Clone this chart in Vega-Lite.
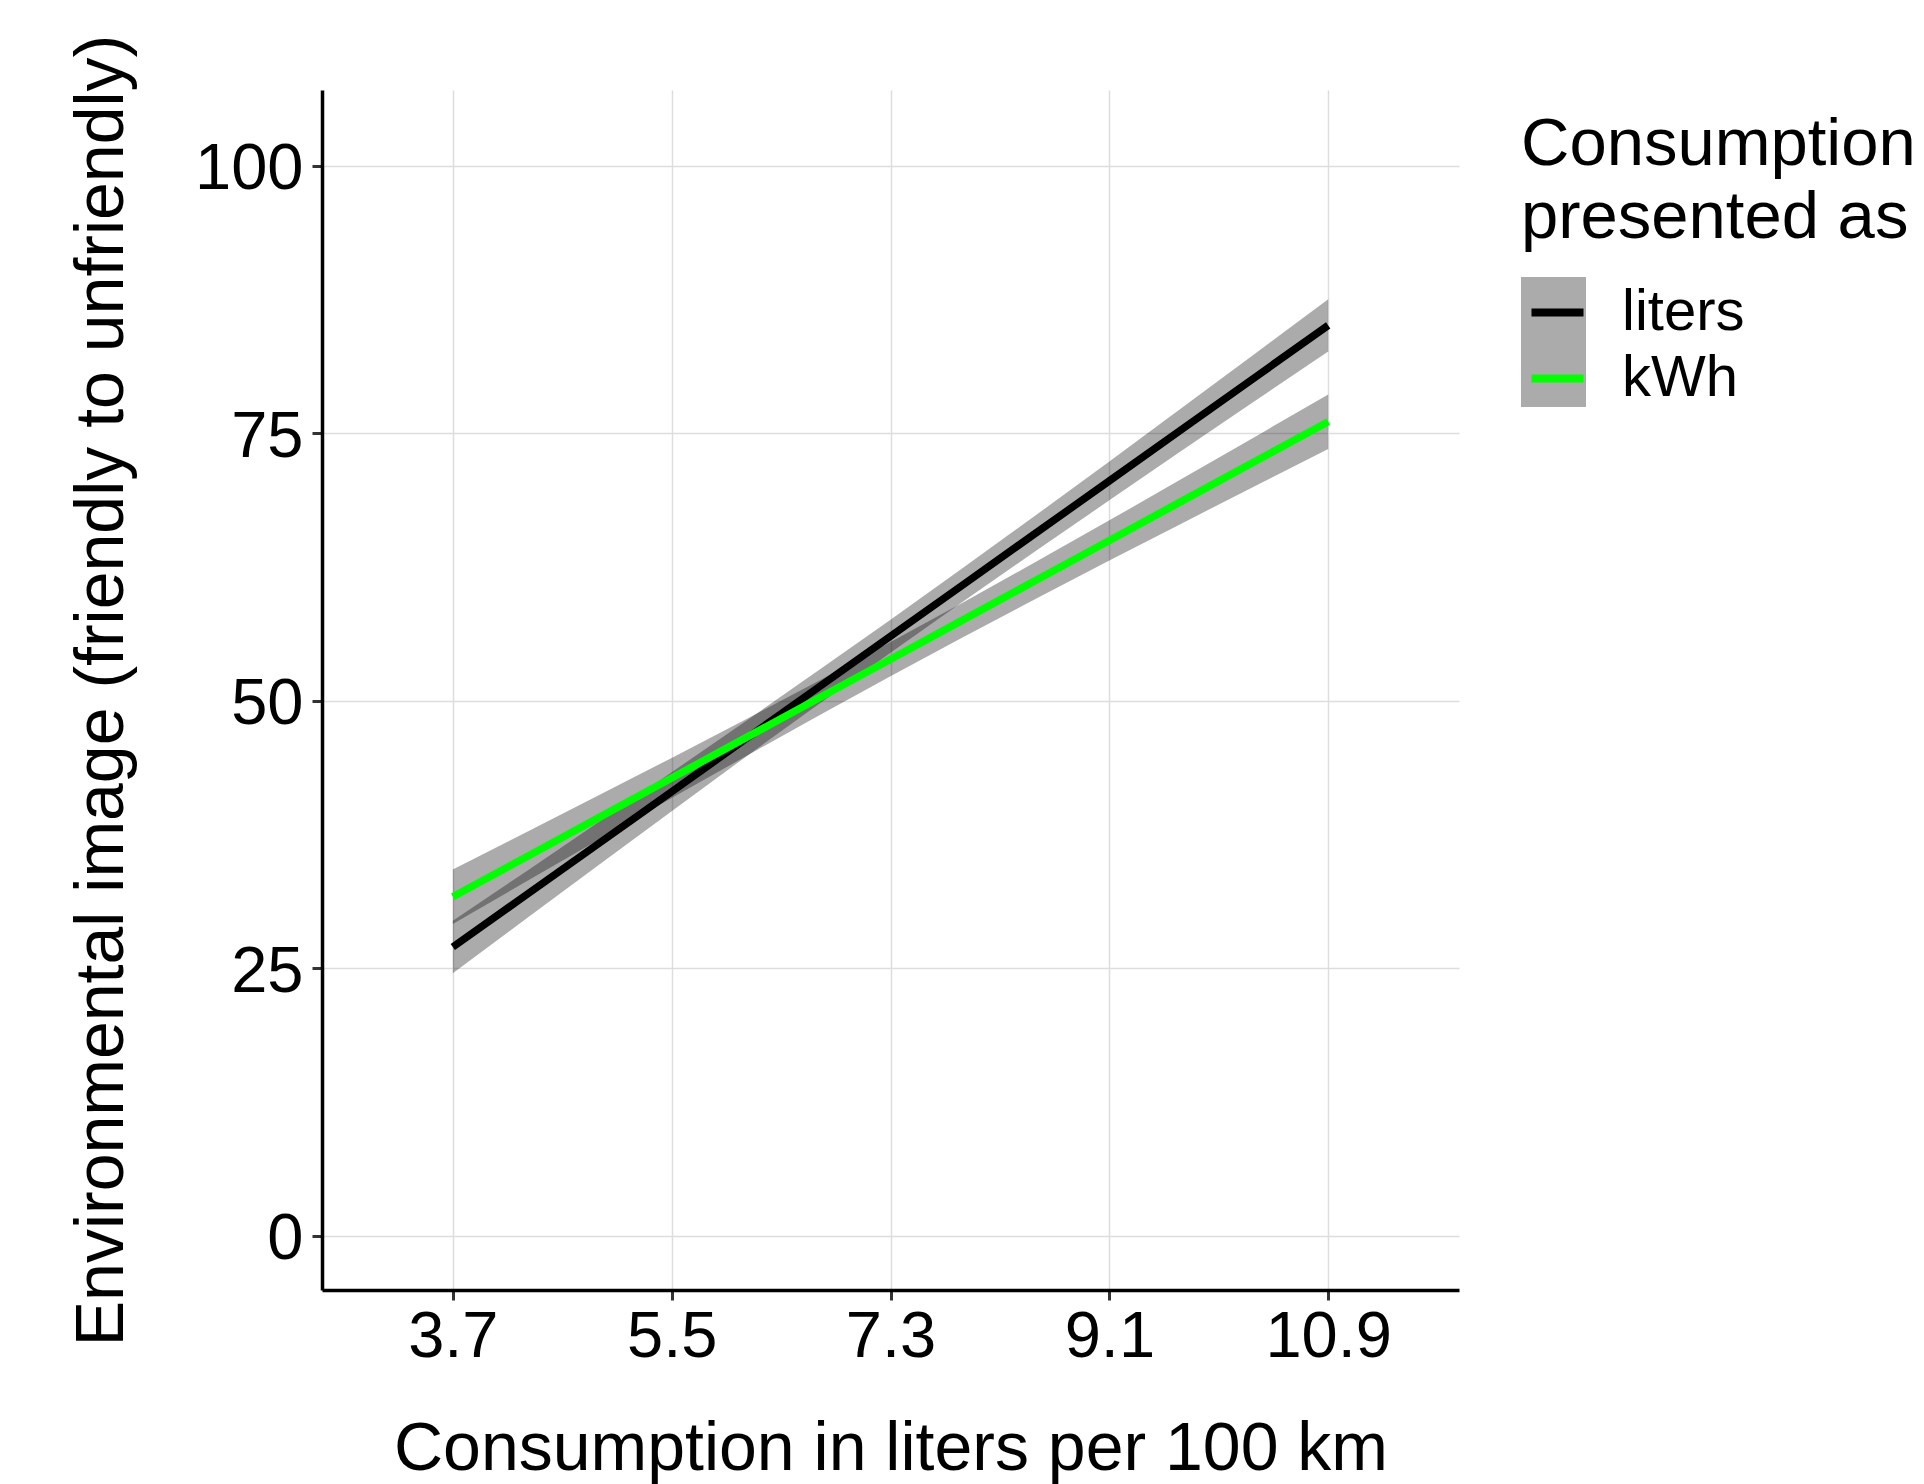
{
  "$schema": "https://vega.github.io/schema/vega-lite/v6.json",
  "autosize": {"type": "none"},
  "width": 1137,
  "height": 1200,
  "padding": {"left": 322, "top": 90, "right": 465, "bottom": 194},
  "background": "white",
  "config": {
    "font": "Liberation Sans",
    "view": {"stroke": null},
    "axis": {
      "labelFont": "Liberation Sans",
      "titleFont": "Liberation Sans",
      "labelColor": "black",
      "titleColor": "black",
      "titleFontWeight": "normal",
      "labelFontSize": 65,
      "titleFontSize": 68,
      "domainColor": "black",
      "domainWidth": 3.5,
      "tickColor": "#333333",
      "tickWidth": 3,
      "tickSize": 10,
      "gridColor": "#dddddd",
      "gridWidth": 1.5
    },
    "legend": {
      "titleFont": "Liberation Sans",
      "labelFont": "Liberation Sans",
      "titleFontWeight": "normal",
      "titleColor": "black",
      "labelColor": "black",
      "titleLimit": 2000,
      "labelLimit": 2000
    }
  },
  "data": {
    "values": [
      {"presented": "liters", "x": 3.7, "fit": 27.00, "lower": 24.55, "upper": 29.45},
      {"presented": "liters", "x": 4.3, "fit": 31.84, "lower": 29.63, "upper": 34.05},
      {"presented": "liters", "x": 4.9, "fit": 36.68, "lower": 34.68, "upper": 38.68},
      {"presented": "liters", "x": 5.5, "fit": 41.52, "lower": 39.70, "upper": 43.34},
      {"presented": "liters", "x": 6.1, "fit": 46.37, "lower": 44.70, "upper": 48.04},
      {"presented": "liters", "x": 6.7, "fit": 51.21, "lower": 49.63, "upper": 52.79},
      {"presented": "liters", "x": 7.3, "fit": 56.05, "lower": 54.50, "upper": 57.60},
      {"presented": "liters", "x": 7.9, "fit": 60.89, "lower": 59.31, "upper": 62.47},
      {"presented": "liters", "x": 8.5, "fit": 65.73, "lower": 64.06, "upper": 67.40},
      {"presented": "liters", "x": 9.1, "fit": 70.57, "lower": 68.75, "upper": 72.39},
      {"presented": "liters", "x": 9.7, "fit": 75.42, "lower": 73.42, "upper": 77.42},
      {"presented": "liters", "x": 10.3, "fit": 80.26, "lower": 78.05, "upper": 82.47},
      {"presented": "liters", "x": 10.9, "fit": 85.10, "lower": 82.65, "upper": 87.55},
      {"presented": "kWh", "x": 3.7, "fit": 31.70, "lower": 29.15, "upper": 34.25},
      {"presented": "kWh", "x": 4.3, "fit": 35.40, "lower": 33.10, "upper": 37.70},
      {"presented": "kWh", "x": 4.9, "fit": 39.10, "lower": 37.02, "upper": 41.18},
      {"presented": "kWh", "x": 5.5, "fit": 42.80, "lower": 40.92, "upper": 44.68},
      {"presented": "kWh", "x": 6.1, "fit": 46.50, "lower": 44.77, "upper": 48.23},
      {"presented": "kWh", "x": 6.7, "fit": 50.20, "lower": 48.57, "upper": 51.83},
      {"presented": "kWh", "x": 7.3, "fit": 53.90, "lower": 52.30, "upper": 55.50},
      {"presented": "kWh", "x": 7.9, "fit": 57.60, "lower": 55.97, "upper": 59.23},
      {"presented": "kWh", "x": 8.5, "fit": 61.30, "lower": 59.57, "upper": 63.03},
      {"presented": "kWh", "x": 9.1, "fit": 65.00, "lower": 63.12, "upper": 66.88},
      {"presented": "kWh", "x": 9.7, "fit": 68.70, "lower": 66.62, "upper": 70.78},
      {"presented": "kWh", "x": 10.3, "fit": 72.40, "lower": 70.10, "upper": 74.70},
      {"presented": "kWh", "x": 10.9, "fit": 76.10, "lower": 73.55, "upper": 78.65}
    ]
  },
  "encoding": {
    "x": {
      "field": "x",
      "type": "quantitative",
      "scale": {"domain": [2.624, 11.976], "nice": false, "zero": false},
      "axis": {
        "values": [3.7, 5.5, 7.3, 9.1, 10.9],
        "format": ".1f",
        "labelPadding": 5,
        "labelBaseline": "top",
        "title": "Consumption in liters per 100 km",
        "titleX": 568.5,
        "titleY": 179,
        "titleAlign": "center",
        "titleBaseline": "alphabetic"
      }
    }
  },
  "layer": [
    {
      "mark": {"type": "area", "fillOpacity": 0.33, "strokeWidth": 0},
      "encoding": {
        "y": {
          "field": "lower",
          "type": "quantitative",
          "scale": {"domain": [-5.05, 107.1], "nice": false, "zero": false},
          "axis": {
            "values": [0, 25, 50, 75, 100],
            "labelPadding": 9,
            "labelBaseline": "alphabetic",
            "labelOffset": 23,
            "title": "Environmental image (friendly to unfriendly)",
            "titleAngle": -90,
            "titleX": -200,
            "titleY": 600,
            "titleAlign": "center",
            "titleBaseline": "alphabetic"
          }
        },
        "y2": {"field": "upper"},
        "fill": {
          "field": "presented",
          "type": "nominal",
          "scale": {"range": ["black", "black"]},
          "legend": {
            "orient": "none",
            "legendX": 1199,
            "legendY": 187,
            "zindex": 0,
            "padding": 0,
            "title": null,
            "labelFontSize": 58,
            "labelExpr": "''",
            "labelOffset": 0,
            "symbolType": "square",
            "symbolSize": 4225,
            "symbolOpacity": 0.33,
            "symbolStrokeWidth": 0,
            "rowPadding": 0
          }
        }
      }
    },
    {
      "mark": {"type": "line", "strokeWidth": 7.5},
      "encoding": {
        "y": {"field": "fit", "type": "quantitative"},
        "stroke": {
          "field": "presented",
          "type": "nominal",
          "scale": {"domain": ["liters", "kWh"], "range": ["black", "#00ff00"]},
          "legend": {
            "orient": "none",
            "legendX": 1199,
            "legendY": 22,
            "zindex": 1,
            "padding": 0,
            "title": ["Consumption", "presented as"],
            "titleFontSize": 67,
            "titleLineHeight": 73,
            "titlePadding": 24,
            "labelFontSize": 58,
            "labelOffset": 28,
            "symbolType": "M-0.8,0L0.8,0",
            "symbolSize": 4225,
            "symbolStrokeWidth": 8,
            "rowPadding": 0
          }
        }
      }
    }
  ]
}
